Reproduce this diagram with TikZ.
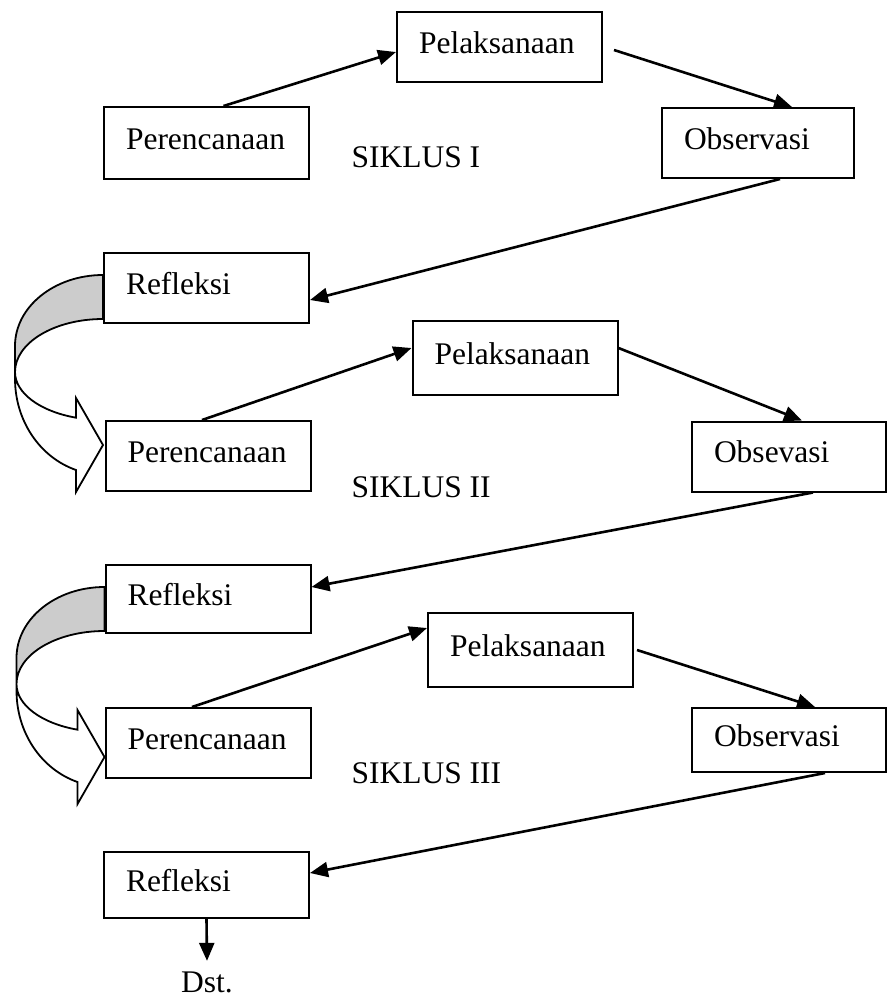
\documentclass[tikz,border=0pt]{standalone}
\usepackage{fontspec}
\setmainfont{Liberation Serif}
\usetikzlibrary{arrows.meta}
\definecolor{bandgray}{RGB}{204,204,204}
\begin{document}
\begin{tikzpicture}[x=1pt,y=-1pt,
	every node/.style={font=\fontsize{31.5}{38}\selectfont},
	box/.style={draw,line width=2pt,fill=white,inner xsep=22pt,inner ysep=0pt,text width=161pt,align=left,minimum height=70pt,text height=22pt,text depth=10pt},
	obsbox/.style={box,text width=150pt},
	flow/.style={line width=2.6pt,-{Triangle[length=18pt,width=15pt]}},
	bendarrow/.pic={
		\filldraw[fill=bandgray,line width=1.8pt] (0,23) arc[start angle=270,end angle=180,x radius=88,y radius=71] -- (-88,120) arc[start angle=180,end angle=270,x radius=88,y radius=53] -- cycle;
		\filldraw[fill=white,line width=1.8pt] (-88,120) arc[start angle=180,end angle=107.9,x radius=88,y radius=48] -- (-27,146) -- (0,193) -- (-27,240) -- (-27,218) arc[start angle=107.9,end angle=180,x radius=88,y radius=95.6] -- cycle;
	}]
	\useasboundingbox (0,0) rectangle (889,997);

	\node[box] (pel1) at (499.5,47) {Pelaksanaan};
	\node[box,minimum height=72pt] (per1) at (206.5,143) {Perencanaan};
	\node[obsbox,text width=148pt] (obs1) at (758,143) {Observasi};
	\node[box] (ref1) at (206.5,288) {Refleksi};
	\node[anchor=base west] (sik1) at (348,167) {SIKLUS I};
	\draw[flow] ([xshift=17pt]per1.north) -- ([yshift=-5pt]pel1.west);
	\draw[flow] ([xshift=11pt,yshift=-3pt]pel1.east) -- ([xshift=34pt]obs1.north);
	\draw[flow] ([xshift=22pt]obs1.south) -- ([yshift=-12pt]ref1.east);

	\node[box,minimum height=74pt] (pel2) at (515,358) {Pelaksanaan};
	\node[box] (per2) at (208,456) {Perencanaan};
	\node[obsbox] (obs2) at (789,456.5) {Obsevasi};
	\node[box,minimum height=68pt] (ref2) at (208,599) {Refleksi};
	\node[anchor=base west] (sik2) at (348,497) {SIKLUS II};
	\draw[flow] ([xshift=-6pt]per2.north) -- ([yshift=10pt]pel2.west);
	\draw[flow] ([yshift=10pt]pel2.east) -- ([xshift=13pt]obs2.north);
	\draw[flow] ([xshift=24pt]obs2.south) -- ([yshift=12pt]ref2.east);

	\node[box,minimum height=74pt] (pel3) at (530.5,650) {Pelaksanaan};
	\node[box] (per3) at (208,743) {Perencanaan};
	\node[obsbox,minimum height=64pt] (obs3) at (789,740) {Observasi};
	\node[box,minimum height=66pt] (ref3) at (206.5,885) {Refleksi};
	\node[anchor=base west] (sik3) at (348,783) {SIKLUS III};
	\draw[flow] ([xshift=-16pt]per3.north) -- ([yshift=22pt]pel3.west);
	\draw[flow] ([xshift=3pt]pel3.east) -- ([xshift=26pt]obs3.north);
	\draw[flow] ([xshift=36pt]obs3.south) -- ([yshift=12pt]ref3.east);

	\node[anchor=base] (dst) at (207,992) {Dst.};
	\draw[flow] (ref3.south) -- ([yshift=7pt]dst.north);

	\pic at (ref1.north west) {bendarrow};
	\pic at (ref2.north west) {bendarrow};
\end{tikzpicture}
\end{document}
